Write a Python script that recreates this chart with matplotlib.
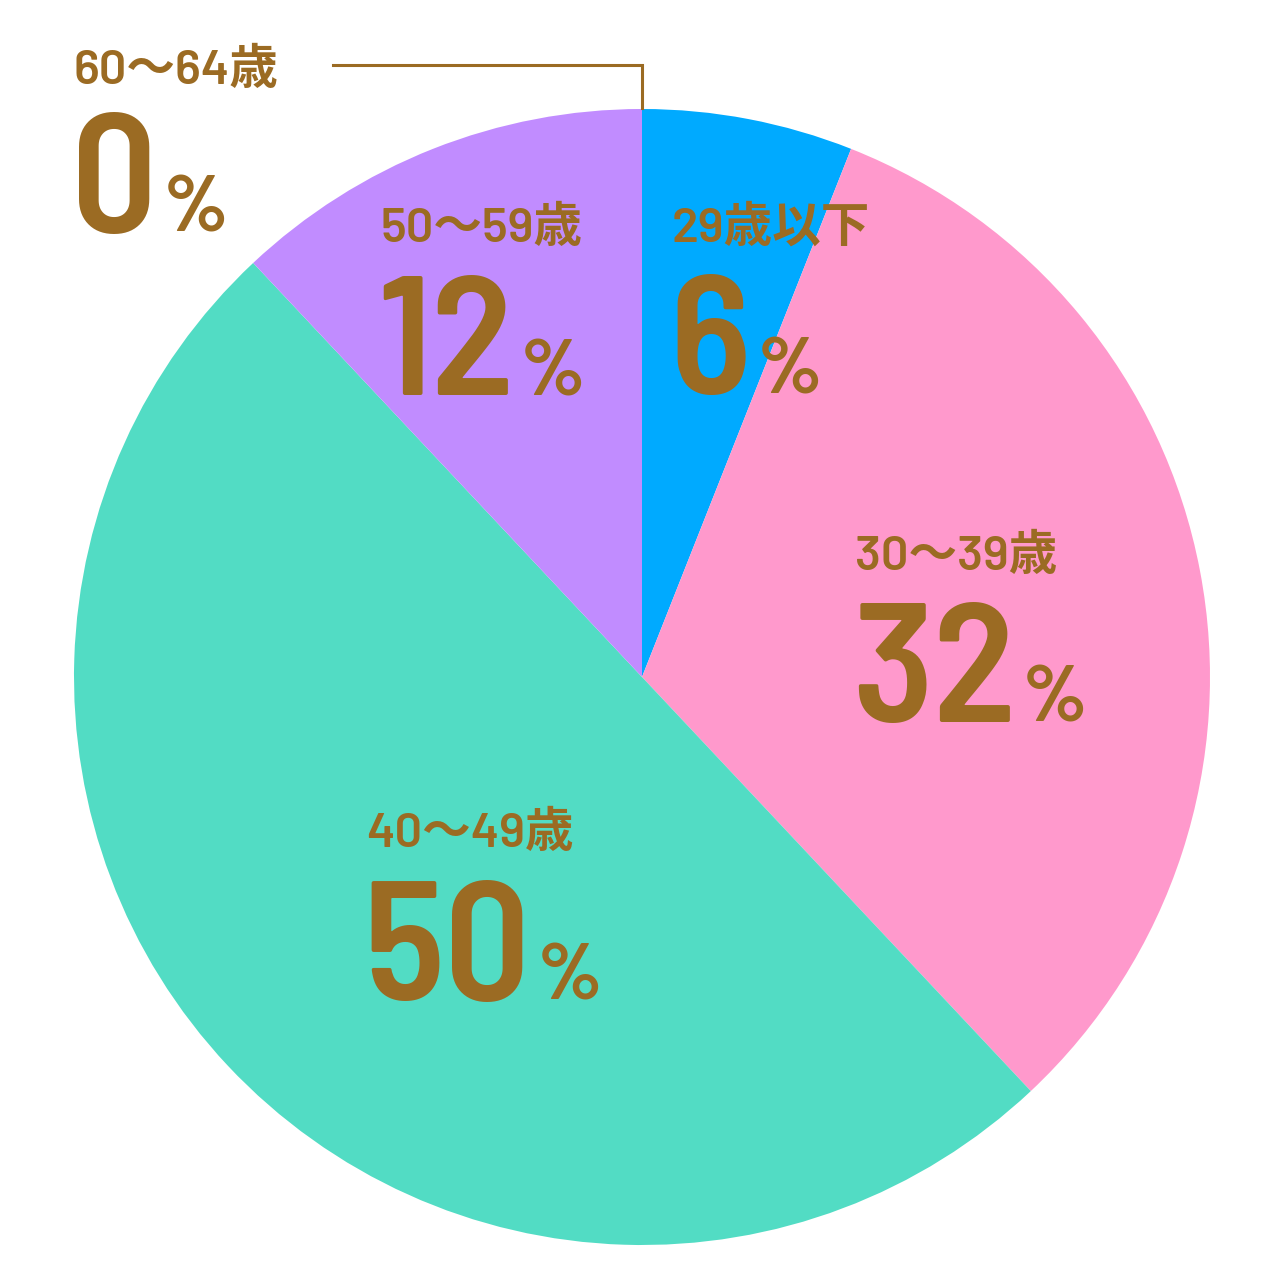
#!/usr/bin/env python3
"""Age breakdown pie (recreated)."""
import matplotlib

matplotlib.use("Agg")
import matplotlib.pyplot as plt

W = H = 1280

# data
labels = ["29歳以下", "30〜39歳", "40〜49歳", "50〜59歳", "60〜64歳"]
shares = [6, 32, 50, 12, 0]

# styles
colors = ["#00aaff", "#ff99cc", "#52dcc4", "#c18cff", "#ffffff"]
BROWN = "#9b6b23"
LAB = ["Barlow", "Noto Sans CJK JP", "DejaVu Sans"]
NUM = ["Barlow Semi Condensed", "Roboto", "DejaVu Sans"]

# label placement in reference pixels (left x, label centre y, number baseline y)
place = {
    "29歳以下": (672, 228, 394),
    "30〜39歳": (855, 556, 722),
    "40〜49歳": (366, 833, 1000),
    "50〜59歳": (381, 228, 395),
    "60〜64歳": (74, 70, 232),
}


def Y(y):
    return H - y


fig = plt.figure(figsize=(12.8, 12.8), dpi=100)
ax = fig.add_axes([0, 0, 1, 1])

ax.pie(shares, colors=colors, startangle=90, counterclock=False,
       center=(642, Y(677)), radius=568, frame=True,
       wedgeprops=dict(linewidth=0))
ax.set_xlim(0, W)
ax.set_ylim(0, H)
ax.axis("off")

# leader for the 0% slice
ax.plot([333, 642, 642], [Y(65), Y(65), Y(108)], color=BROWN, lw=2.2,
        solid_joinstyle="miter")

fig.canvas.draw()
r = fig.canvas.get_renderer()
for lab, val in zip(labels, shares):
    x, ly, by = place[lab]
    ax.text(x, Y(ly), lab, family=LAB, fontsize=35, fontweight="semibold",
            color=BROWN, ha="left", va="center")
    t = ax.text(x - 3, Y(by), str(val), family=NUM, fontsize=122,
                fontweight="semibold", color=BROWN, ha="left", va="baseline")
    ext = t.get_window_extent(renderer=r)
    ax.text(ext.x1 + 7, Y(by), "%", family=NUM, fontsize=58,
            fontweight="bold", color=BROWN, ha="left", va="baseline")

fig.savefig("out.png", dpi=100, facecolor="white")
